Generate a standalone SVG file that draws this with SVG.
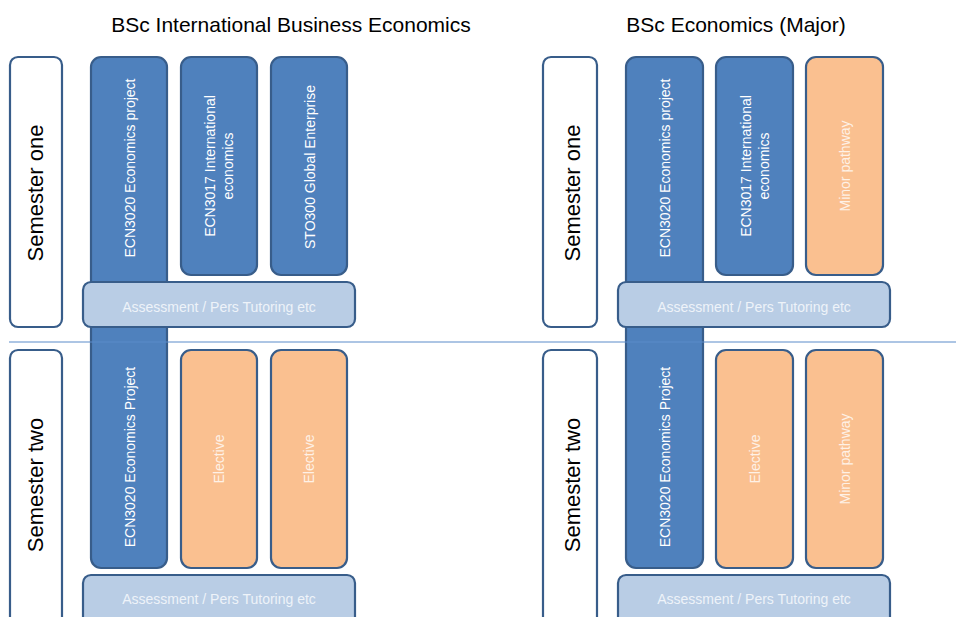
<svg xmlns="http://www.w3.org/2000/svg" width="956" height="617" viewBox="0 0 956 617">
<style>
text{font-family:"Liberation Sans",Arial,sans-serif}
.title{font-size:21px;fill:#000;text-anchor:middle}
.sem{font-size:22px;fill:#000;text-anchor:middle}
.semBox{fill:#fff;stroke:#385d8a;stroke-width:2.2}
.core{fill:#4f81bd;stroke:#385d8a;stroke-width:2.2}
.opt{fill:#fac090;stroke:#385d8a;stroke-width:2.2}
.assess{fill:#b9cde5;stroke:#385d8a;stroke-width:2.2}
.lbl{font-size:14px;fill:#fff;text-anchor:middle}
.lblOpt{font-size:14px;fill:#fef1e6;text-anchor:middle}
.lblAs{font-size:14px;fill:#eef3f9;text-anchor:middle}
.divider{stroke:#5b8bc9;stroke-width:1}
</style>

<g id="titles">
<text class="title" x="291" y="32">BSc International Business Economics</text>
<text class="title" x="736" y="32">BSc Economics (Major)</text>
</g>

<!-- Left programme -->
<g id="ibe-sem1-label">
<rect class="semBox" x="10" y="57" width="52" height="270" rx="8"/>
<text class="sem" transform="translate(43,193) rotate(-90)">Semester one</text>
</g>
<g id="ibe-sem2-label">
<rect class="semBox" x="10" y="350" width="52" height="290" rx="8"/>
<text class="sem" transform="translate(43,485) rotate(-90)">Semester two</text>
</g>
<g id="ibe-ecn3020">
<rect class="core" x="91" y="57" width="76" height="511" rx="10"/>
<text class="lbl" transform="translate(135,168) rotate(-90)">ECN3020 Economics project</text>
<text class="lbl" transform="translate(135,457) rotate(-90)">ECN3020 Economics Project</text>
</g>
<g id="ibe-ecn3017">
<rect class="core" x="181" y="57" width="76" height="218" rx="10"/>
<text class="lbl" transform="translate(215,166) rotate(-90)">ECN3017 International</text>
<text class="lbl" transform="translate(233,166) rotate(-90)">economics</text>
</g>
<g id="ibe-sto300">
<rect class="core" x="271" y="57" width="76" height="218" rx="10"/>
<text class="lbl" transform="translate(315,167) rotate(-90)">STO300 Global Enterprise</text>
</g>
<g id="ibe-assess1">
<rect class="assess" x="83" y="282" width="272" height="45" rx="8"/>
<text class="lblAs" x="219" y="312">Assessment / Pers Tutoring etc</text>
</g>
<g id="ibe-elective1">
<rect class="opt" x="181" y="350" width="76" height="218" rx="10"/>
<text class="lblOpt" transform="translate(224,459) rotate(-90)">Elective</text>
</g>
<g id="ibe-elective2">
<rect class="opt" x="271" y="350" width="76" height="218" rx="10"/>
<text class="lblOpt" transform="translate(314,459) rotate(-90)">Elective</text>
</g>
<g id="ibe-assess2">
<rect class="assess" x="83" y="575" width="272" height="60" rx="8"/>
<text class="lblAs" x="219" y="604">Assessment / Pers Tutoring etc</text>
</g>

<!-- Right programme -->
<g id="eco-sem1-label">
<rect class="semBox" x="543" y="57" width="54" height="270" rx="8"/>
<text class="sem" transform="translate(580,193) rotate(-90)">Semester one</text>
</g>
<g id="eco-sem2-label">
<rect class="semBox" x="543" y="350" width="54" height="290" rx="8"/>
<text class="sem" transform="translate(580,485) rotate(-90)">Semester two</text>
</g>
<g id="eco-ecn3020">
<rect class="core" x="626" y="57" width="77" height="511" rx="10"/>
<text class="lbl" transform="translate(670,168) rotate(-90)">ECN3020 Economics project</text>
<text class="lbl" transform="translate(670,457) rotate(-90)">ECN3020 Economics Project</text>
</g>
<g id="eco-ecn3017">
<rect class="core" x="716" y="57" width="77" height="218" rx="10"/>
<text class="lbl" transform="translate(751,166) rotate(-90)">ECN3017 International</text>
<text class="lbl" transform="translate(769,166) rotate(-90)">economics</text>
</g>
<g id="eco-minor1">
<rect class="opt" x="806" y="57" width="77" height="218" rx="10"/>
<text class="lblOpt" transform="translate(850,166) rotate(-90)">Minor pathway</text>
</g>
<g id="eco-assess1">
<rect class="assess" x="618" y="282" width="272" height="45" rx="8"/>
<text class="lblAs" x="754" y="312">Assessment / Pers Tutoring etc</text>
</g>
<g id="eco-elective">
<rect class="opt" x="716" y="350" width="77" height="218" rx="10"/>
<text class="lblOpt" transform="translate(760,459) rotate(-90)">Elective</text>
</g>
<g id="eco-minor2">
<rect class="opt" x="806" y="350" width="77" height="218" rx="10"/>
<text class="lblOpt" transform="translate(850,459) rotate(-90)">Minor pathway</text>
</g>
<g id="eco-assess2">
<rect class="assess" x="618" y="575" width="272" height="60" rx="8"/>
<text class="lblAs" x="754" y="604">Assessment / Pers Tutoring etc</text>
</g>

<g id="connectors">
<line class="divider" x1="9" y1="342" x2="956" y2="342"/>
</g>
</svg>
